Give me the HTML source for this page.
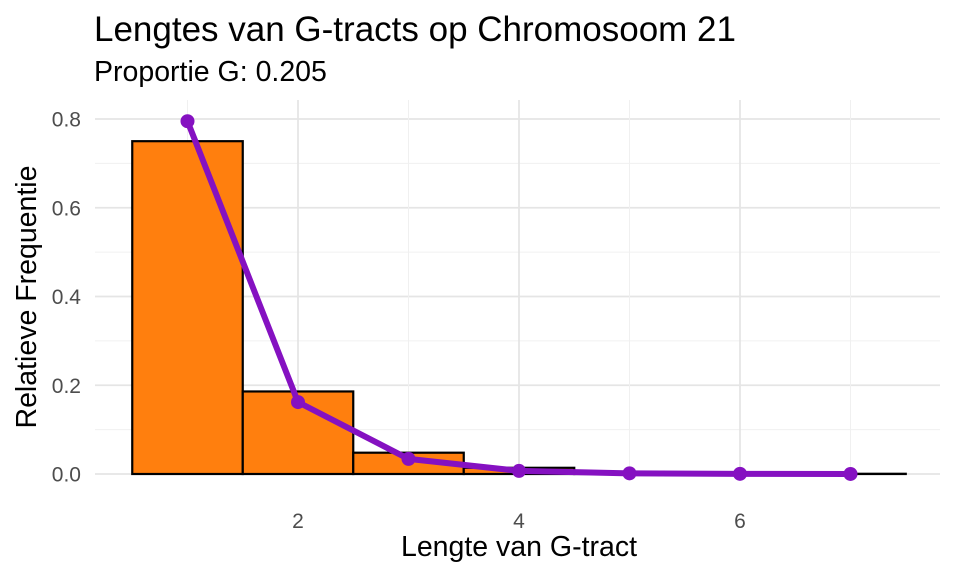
<!DOCTYPE html>
<html><head><meta charset="utf-8"><style>
body{margin:0;background:#fff;}
svg{display:block;font-family:"Liberation Sans",Arial,sans-serif;}
</style></head><body>
<svg id="chart" width="960" height="576" viewBox="0 0 960 576">
<text x="94" y="41" font-size="35" fill="#000">Lengtes van G-tracts op Chromosoom 21</text>
<text x="94" y="81" font-size="28.5" fill="#000">Proportie G: 0.205</text>
<g id="grid"></g>
<g id="bars"></g>
<g id="line"></g>
<g id="axes"></g>
<text x="519" y="556" font-size="28.5" text-anchor="middle" fill="#000">Lengte van G-tract</text>
<text transform="translate(36,297) rotate(-90)" font-size="28.5" text-anchor="middle" fill="#000">Relatieve Frequentie</text>
</svg>
<script>
const categories=[1,2,3,4,5,6,7];
const barValues=[0.750,0.186,0.048,0.014,0.003,0.001,0.0005];
const lineValues=[0.795,0.162,0.034,0.007,0.0015,0.0004,0.0001];
const yTicks=[0,0.2,0.4,0.6,0.8];
const yTickLabels=["0.0","0.2","0.4","0.6","0.8"];
const xTicks=[2,4,6];
const xTickLabels=["2","4","6"];
const NS="http://www.w3.org/2000/svg";
const x=v=>187.5+(v-1)*110.5;
const y=v=>474-v*443.75;
const L=95,R=940,T=100,B=474;
function mk(tag,attrs,parent){const e=document.createElementNS(NS,tag);for(const k in attrs)e.setAttribute(k,attrs[k]);document.getElementById(parent).appendChild(e);return e;}
for(let i=0;i<yTicks.length;i++){
 const g=mk('line',{x1:L,x2:R,y1:y(yTicks[i]),y2:y(yTicks[i]),stroke:'#e5e5e5','stroke-width':1.8},'grid');
 
 
 if(i<yTicks.length-1){const m=mk('line',{x1:L,x2:R,y1:y((yTicks[i]+yTicks[i+1])/2),y2:y((yTicks[i]+yTicks[i+1])/2),stroke:'#f0f0f0','stroke-width':1},'grid');
 
 }
 const t=mk('text',{x:81,y:y(yTicks[i])+7.5,'font-size':21,'text-anchor':'end',fill:'#4d4d4d'},'axes');t.textContent=yTickLabels[i];
 
 
}
for(let v=1;v<=7;v+=2){const m=mk('line',{x1:x(v),x2:x(v),y1:T,y2:B,stroke:'#f0f0f0','stroke-width':1},'grid');
 
 }
for(let i=0;i<xTicks.length;i++){
 const g=mk('line',{x1:x(xTicks[i]),x2:x(xTicks[i]),y1:T,y2:B,stroke:'#e5e5e5','stroke-width':1.8},'grid');
 
 
 const t=mk('text',{x:x(xTicks[i]),y:528,'font-size':21,'text-anchor':'middle',fill:'#4d4d4d'},'axes');t.textContent=xTickLabels[i];
 
 
}
categories.forEach((c,i)=>{
 const top=y(barValues[i]);
 const r=mk('rect',{x:x(c-0.5),y:top,width:110.5,height:B-top,fill:'#ff7f0e',stroke:'#000','stroke-width':2.2},'bars');
 
 
});
const pts=categories.map((c,i)=>x(c)+','+y(lineValues[i])).join(' ');
const pl=mk('polyline',{points:pts,fill:'none',stroke:'#8511c1','stroke-width':6,'stroke-linejoin':'round'},'line');


categories.forEach((c,i)=>{
 const p=mk('circle',{cx:x(c),cy:y(lineValues[i]),r:7,fill:'#8511c1'},'line');
 
 
});
</script>
</body></html>
